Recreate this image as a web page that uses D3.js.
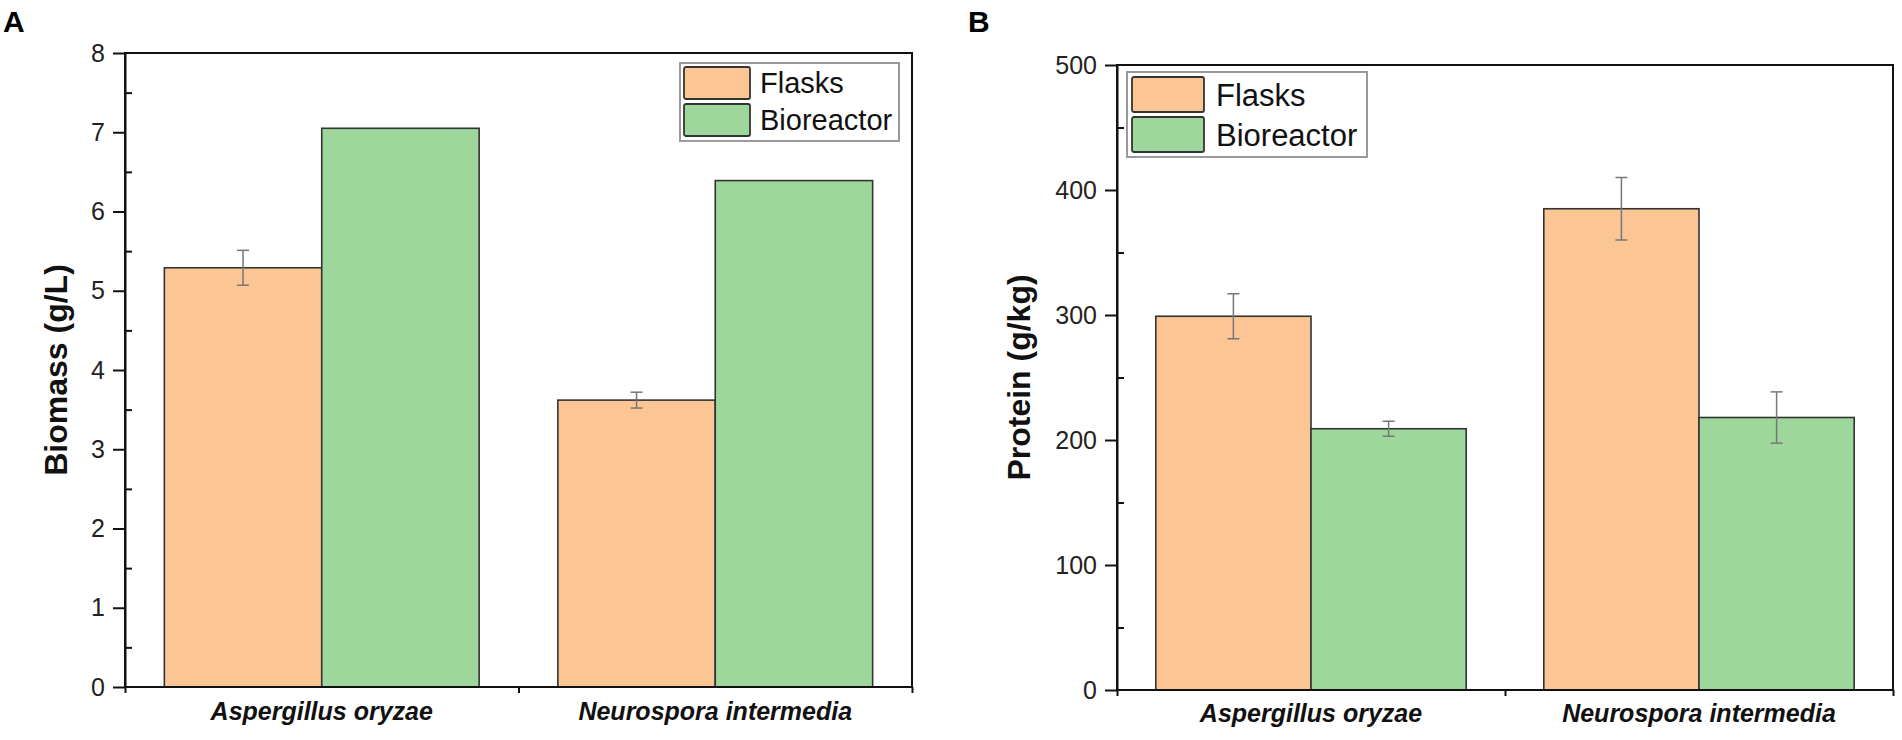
<!DOCTYPE html>
<html>
<head>
<meta charset="utf-8">
<script src="https://cdn.jsdelivr.net/npm/d3@7"></script>
<style>
  html, body { margin: 0; padding: 0; background: #fff; }
  svg { display: block; font-family: "Liberation Sans", Arial, sans-serif; }
  .axis path, .axis line { stroke: #111; stroke-width: 2; }
  .axis text { fill: #222; }
</style>
</head>
<body>
<div id="chart"></div>
<script>
// data
const categories = ["Aspergillus oryzae", "Neurospora intermedia"];
const seriesNames = ["Flasks", "Bioreactor"];

const biomassFlasks = [5.29, 3.62];
const biomassFlasksErr = [0.22, 0.1];
const biomassBioreactor = [7.05, 6.39];
const biomassBioreactorErr = [null, null];

const proteinFlasks = [299, 385];
const proteinFlasksErr = [18, 25];
const proteinBioreactor = [209, 218];
const proteinBioreactorErr = [6, 20.5];

const biomassTicks = [0, 1, 2, 3, 4, 5, 6, 7, 8];
const proteinTicks = [0, 100, 200, 300, 400, 500];

const colors = { Flasks: "#fcc594", Bioreactor: "#9ed79b" };

const width = 1902;
const height = 740;

const svg = d3
  .select("#chart")
  .append("svg")
  .attr("width", width)
  .attr("height", height);

const panels = [
  {
    letter: "A",
    letterX: 3,
    x0: 125, x1: 912, top: 53, bottom: 687,
    max: 8, step: 0.5,
    ticks: biomassTicks,
    title: "Biomass (g/L)",
    titleX: 67,
    labelY: 720,
    values: [biomassFlasks, biomassBioreactor],
    errors: [biomassFlasksErr, biomassBioreactorErr],
    legend: { x: 680, y: 63, w: 219, h: 78, sw: 66, sh: 32, gap: 5, pad: 4, textX: 80, font: 29 },
  },
  {
    letter: "B",
    letterX: 968,
    x0: 1117, x1: 1893, top: 65, bottom: 690,
    max: 500, step: 50,
    ticks: proteinTicks,
    title: "Protein (g/kg)",
    titleX: 1030,
    labelY: 722,
    values: [proteinFlasks, proteinBioreactor],
    errors: [proteinFlasksErr, proteinBioreactorErr],
    legend: { x: 1127, y: 72, w: 240, h: 85, sw: 72, sh: 35, gap: 5, pad: 5, textX: 89, font: 31 },
  },
];

panels.forEach((p) => {
  const g = svg.append("g");

  const x = d3.scaleBand().domain(categories).range([p.x0, p.x1]).padding(0);
  const xs = d3
    .scaleBand()
    .domain(seriesNames)
    .range([x.bandwidth() * 0.1, x.bandwidth() * 0.9]);
  const y = d3.scaleLinear().domain([0, p.max]).range([p.bottom, p.top]);

  // bars
  const rows = [];
  categories.forEach((c, i) => {
    seriesNames.forEach((s, j) => {
      rows.push({ cat: c, series: s, value: p.values[j][i], err: p.errors[j][i] });
    });
  });

  g.append("g")
    .selectAll("rect")
    .data(rows)
    .enter()
    .append("rect")
    .attr("x", (d) => x(d.cat) + xs(d.series))
    .attr("y", (d) => y(d.value))
    .attr("width", xs.bandwidth())
    .attr("height", (d) => y(0) - y(d.value))
    .attr("fill", (d) => colors[d.series])
    .attr("stroke", "#333")
    .attr("stroke-width", 1.6);

  // error bars
  const eb = g
    .append("g")
    .attr("stroke", "#777")
    .attr("stroke-width", 1.5)
    .selectAll("g")
    .data(rows.filter((d) => d.err != null))
    .enter()
    .append("g")
    .attr("transform", (d) => `translate(${x(d.cat) + xs(d.series) + xs.bandwidth() / 2},0)`);
  eb.append("line")
    .attr("y1", (d) => y(d.value - d.err))
    .attr("y2", (d) => y(d.value + d.err));
  eb.append("line")
    .attr("x1", -6).attr("x2", 6)
    .attr("y1", (d) => y(d.value + d.err))
    .attr("y2", (d) => y(d.value + d.err));
  eb.append("line")
    .attr("x1", -6).attr("x2", 6)
    .attr("y1", (d) => y(d.value - d.err))
    .attr("y2", (d) => y(d.value - d.err));

  // frame
  g.append("rect")
    .attr("x", p.x0)
    .attr("y", p.top)
    .attr("width", p.x1 - p.x0)
    .attr("height", p.bottom - p.top)
    .attr("fill", "none")
    .attr("stroke", "#111")
    .attr("stroke-width", 2);

  // y axis major ticks (outside) and minor ticks (inside)
  g.append("g")
    .attr("class", "axis")
    .attr("transform", `translate(${p.x0},0)`)
    .call(d3.axisLeft(y).tickValues(p.ticks).tickSize(12).tickSizeOuter(0).tickPadding(8))
    .call((a) => a.selectAll("text").style("font-size", "25px"));

  const minor = d3.range(p.step, p.max, p.step * 2);
  g.append("g")
    .attr("class", "axis")
    .attr("transform", `translate(${p.x0},0)`)
    .call(d3.axisLeft(y).tickValues(minor).tickSize(-7).tickSizeOuter(0).tickFormat(""))
    .call((a) => a.select(".domain").remove());

  // x axis: ticks on group boundaries
  const xb = d3.scaleLinear().domain([0.5, categories.length + 0.5]).range([p.x0, p.x1]);
  g.append("g")
    .attr("class", "axis")
    .attr("transform", `translate(0,${p.bottom})`)
    .call(
      d3.axisBottom(xb)
        .tickValues(d3.range(0.5, categories.length + 1, 1))
        .tickSize(6)
        .tickSizeOuter(0)
        .tickFormat("")
    )
    .call((a) => a.select(".domain").remove());

  // category labels
  g.append("g")
    .selectAll("text")
    .data(categories)
    .enter()
    .append("text")
    .attr("x", (d) => x(d) + x.bandwidth() / 2)
    .attr("y", p.labelY)
    .attr("text-anchor", "middle")
    .style("font-size", "25px")
    .style("font-weight", "bold")
    .style("font-style", "italic")
    .attr("fill", "#111")
    .text((d) => d);

  // y title
  g.append("text")
    .attr("transform", `translate(${p.titleX},${(p.top + p.bottom) / 2}) rotate(-90)`)
    .attr("text-anchor", "middle")
    .style("font-size", "32px")
    .style("font-weight", "bold")
    .attr("fill", "#111")
    .text(p.title);

  // panel letter
  svg.append("text")
    .attr("x", p.letterX)
    .attr("y", 32)
    .style("font-size", "30px")
    .style("font-weight", "bold")
    .attr("fill", "#000")
    .text(p.letter);

  // legend
  const L = p.legend;
  const lg = g.append("g").attr("transform", `translate(${L.x},${L.y})`);
  lg.append("rect")
    .attr("width", L.w)
    .attr("height", L.h)
    .attr("fill", "#fff")
    .attr("stroke", "#9a9a9a")
    .attr("stroke-width", 2);
  const item = lg
    .selectAll(".item")
    .data(seriesNames)
    .enter()
    .append("g")
    .attr("class", "item")
    .attr("transform", (d, i) => `translate(${L.pad},${L.pad + i * (L.sh + L.gap)})`);
  item.append("rect")
    .attr("width", L.sw)
    .attr("height", L.sh)
    .attr("rx", 2)
    .attr("fill", (d) => colors[d])
    .attr("stroke", "#333")
    .attr("stroke-width", 1.8);
  item.append("text")
    .attr("x", L.textX - L.pad)
    .attr("y", L.sh / 2)
    .attr("dy", "0.36em")
    .style("font-size", L.font + "px")
    .attr("fill", "#111")
    .text((d) => d);
});
</script>
</body>
</html>
